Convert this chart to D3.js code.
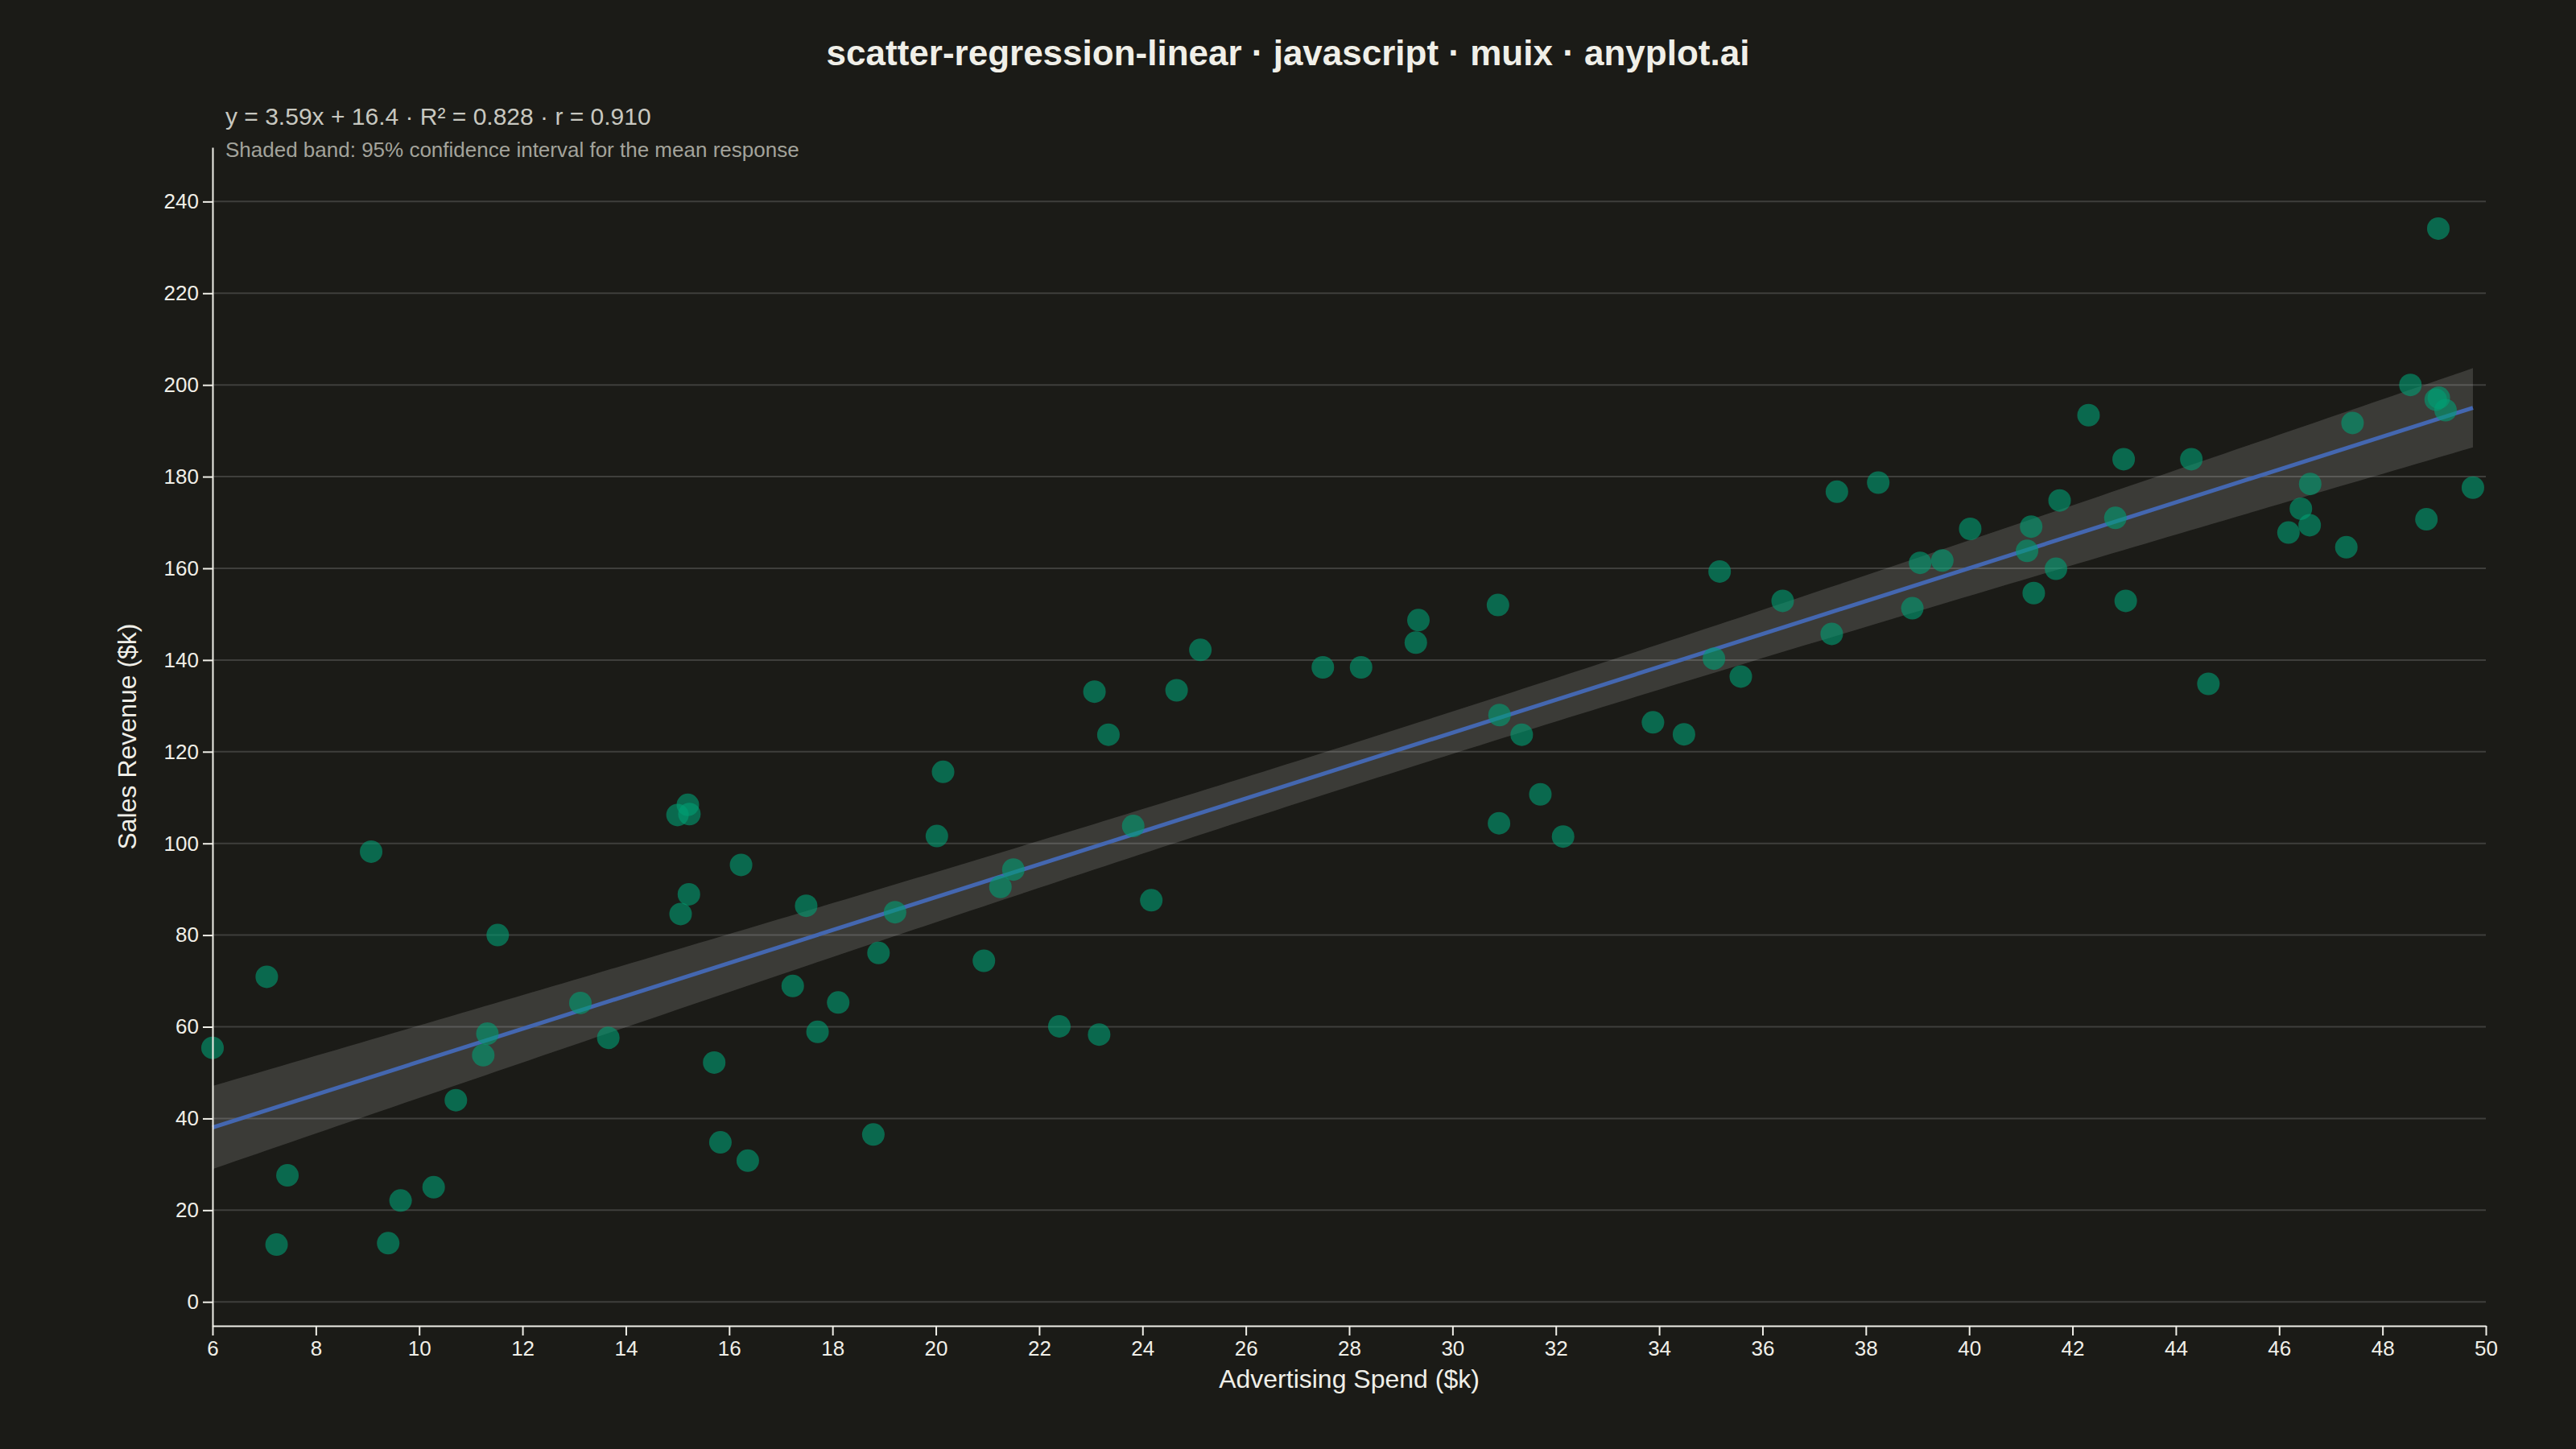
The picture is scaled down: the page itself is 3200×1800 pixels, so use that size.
<!DOCTYPE html>
<html>
<head>
<meta charset="utf-8">
<script src="https://cdn.jsdelivr.net/npm/d3@7"></script>
<style>
  html, body { margin: 0; padding: 0; background: #1b1b17; }
  svg { display: block; }
</style>
</head>
<body>
<svg id="chart" width="3200" height="1800"></svg>
<script>
// ---------------- DATA ----------------
const adSpend = [
  6.00, 7.05, 7.45, 7.24, 9.07, 9.64, 9.40, 10.28, 10.71, 11.32,
  11.24, 11.52, 13.12, 13.66, 15.00, 15.20, 15.23, 15.06, 15.22, 15.71,
  15.83, 16.36, 16.23, 17.49, 17.23, 18.11, 17.71, 19.21, 18.89, 18.79,
  20.02, 20.14, 20.93, 21.25, 21.50,
  22.39, 23.16, 23.07, 23.34, 23.82, 24.17, 24.66, 25.12, 27.49, 28.23,
  29.29, 29.34, 30.88, 30.91, 31.34, 30.90, 31.70, 32.14, 33.88, 34.48,
  35.06, 35.58, 35.17,
  36.39, 37.34, 37.44, 38.24, 38.90, 39.05, 39.48, 40.02, 41.12, 41.20,
  41.25, 41.75, 41.68, 42.31, 42.83, 42.99, 43.03, 44.30, 44.63, 46.18,
  46.42, 46.59, 46.60, 47.30, 47.42, 48.54, 48.85, 49.03, 49.09, 49.22,
  49.08, 49.75
];
const revenue = [
  55.4, 70.9, 27.6, 12.5, 98.2, 22.1, 12.8, 25.0, 44.0, 58.5,
  53.8, 80.0, 65.2, 57.6, 106.2, 108.4, 106.4, 84.6, 88.9, 52.2,
  34.8, 30.8, 95.3, 86.4, 68.9, 65.3, 58.9, 85.0, 76.1, 36.5,
  101.6, 115.6, 74.4, 90.5, 94.3,
  60.1, 58.3, 133.1, 123.7, 103.8, 87.6, 133.4, 142.2, 138.4, 138.4,
  143.8, 148.7, 152.0, 128.0, 123.7, 104.4, 110.7, 101.5, 126.4, 123.8,
  140.3, 136.4, 159.3,
  152.9, 145.7, 176.7, 178.7, 151.3, 161.2, 161.7, 168.6, 163.8, 169.1,
  154.6, 174.8, 159.9, 193.4, 171.0, 183.8, 152.9, 183.8, 134.8, 167.8,
  173.0, 169.4, 178.4, 164.6, 191.7, 200.0, 170.7, 196.8, 197.2, 194.5,
  234.1, 177.6
];
const xTickValues = [6, 8, 10, 12, 14, 16, 18, 20, 22, 24, 26, 28, 30, 32, 34, 36, 38, 40, 42, 44, 46, 48, 50];
const yTickValues = [0, 20, 40, 60, 80, 100, 120, 140, 160, 180, 200, 220, 240];
const xDomain = [6, 50];
const titleText = "scatter-regression-linear · javascript · muix · anyplot.ai";
const statsText = "y = 3.59x + 16.4 · R² = 0.828 · r = 0.910";
const noteText = "Shaded band: 95% confidence interval for the mean response";
const xLabelText = "Advertising Spend ($k)";
const yLabelText = "Sales Revenue ($k)";
const tCrit = 1.987; // t(0.975, n-2)

// ---------------- LAYOUT ----------------
const W = 3200, H = 1800;
const margin = { left: 264, right: 112, top: 183, bottom: 153 };
const FONT = "'Liberation Sans', Arial, Helvetica, sans-serif";
const C = {
  text: "#f0efe8",
  sub: "#c8c8c0",
  note: "#a3a39b",
  grid: "rgba(255,255,255,0.16)",
  band: "rgba(255,255,255,0.14)",
  line: "#4467B0",
  point: "#009E73"
};

const data = adSpend.map((x, i) => ({ x, y: revenue[i] }));

// regression (OLS)
const n = data.length;
const xbar = d3.mean(data, d => d.x);
const ybar = d3.mean(data, d => d.y);
const Sxx = d3.sum(data, d => (d.x - xbar) ** 2);
const Sxy = d3.sum(data, d => (d.x - xbar) * (d.y - ybar));
const slope = Sxy / Sxx;
const intercept = ybar - slope * xbar;
const sse = d3.sum(data, d => (d.y - (intercept + slope * d.x)) ** 2);
const s = Math.sqrt(sse / (n - 2));
const [xMin, xMax] = d3.extent(data, d => d.x);
const bandX = d3.range(0, 201).map(i => xMin + (xMax - xMin) * i / 200);
const band = bandX.map(x => {
  const yhat = intercept + slope * x;
  const h = tCrit * s * Math.sqrt(1 / n + (x - xbar) ** 2 / Sxx);
  return { x, yhat, lo: yhat - h, hi: yhat + h };
});

// scales
const [yMinD, yMaxD] = d3.extent(data, d => d.y);
const yPad = (yMaxD - yMinD) * 0.08;
const x = d3.scaleLinear().domain(xDomain).range([margin.left, W - margin.right]);
const y = d3.scaleLinear().domain([yMinD - yPad, yMaxD + yPad]).range([H - margin.bottom, margin.top]);

const svg = d3.select("#chart");
svg.append("rect").attr("width", W).attr("height", H).attr("fill", "#1b1b17");

// grid
svg.append("g").selectAll("line").data(yTickValues).join("line")
  .attr("x1", margin.left).attr("x2", W - margin.right)
  .attr("y1", d => y(d)).attr("y2", d => y(d))
  .attr("stroke", C.grid).attr("stroke-width", 2);

// band
svg.append("path").datum(band)
  .attr("d", d3.area().x(d => x(d.x)).y0(d => y(d.lo)).y1(d => y(d.hi)))
  .attr("fill", C.band);

// regression line
svg.append("path").datum([xMin, xMax])
  .attr("d", d3.line().x(d => x(d)).y(d => y(intercept + slope * d)))
  .attr("stroke", C.line).attr("stroke-width", 5).attr("fill", "none");

// points
svg.append("g").selectAll("circle").data(data).join("circle")
  .attr("cx", d => x(d.x)).attr("cy", d => y(d.y)).attr("r", 14)
  .attr("fill", C.point).attr("fill-opacity", 0.6);

// axes
const xAxis = svg.append("g")
  .attr("transform", `translate(0,${H - margin.bottom})`)
  .call(d3.axisBottom(x).tickValues(xTickValues).tickFormat(d3.format("d")).tickSize(12).tickSizeOuter(0).tickPadding(7));
const yAxis = svg.append("g")
  .attr("transform", `translate(${margin.left},0)`)
  .call(d3.axisLeft(y).tickValues(yTickValues).tickFormat(d3.format("d")).tickSize(12).tickSizeOuter(0).tickPadding(5));
[xAxis, yAxis].forEach(g => {
  g.select(".domain").attr("stroke", C.text).attr("stroke-width", 2);
  g.selectAll(".tick line").attr("stroke", C.text).attr("stroke-width", 2);
  g.selectAll(".tick text").attr("fill", C.text).style("font-family", FONT).style("font-size", "26px");
});

// title and annotations
svg.append("text").attr("x", W / 2).attr("y", 81).attr("text-anchor", "middle")
  .style("font-family", FONT).style("font-size", "44px").style("font-weight", "bold")
  .attr("fill", C.text).text(titleText);
svg.append("text").attr("x", 280).attr("y", 155)
  .style("font-family", FONT).style("font-size", "30px")
  .attr("fill", C.sub).text(statsText);
svg.append("text").attr("x", 280).attr("y", 195)
  .style("font-family", FONT).style("font-size", "26px")
  .attr("fill", C.note).text(noteText);

// axis labels
svg.append("text").attr("x", (margin.left + W - margin.right) / 2).attr("y", 1724)
  .attr("text-anchor", "middle")
  .style("font-family", FONT).style("font-size", "32px")
  .attr("fill", C.text).text(xLabelText);
svg.append("text")
  .attr("transform", `translate(169,${(margin.top + H - margin.bottom) / 2}) rotate(-90)`)
  .attr("text-anchor", "middle")
  .style("font-family", FONT).style("font-size", "32px")
  .attr("fill", C.text).text(yLabelText);
</script>
</body>
</html>
